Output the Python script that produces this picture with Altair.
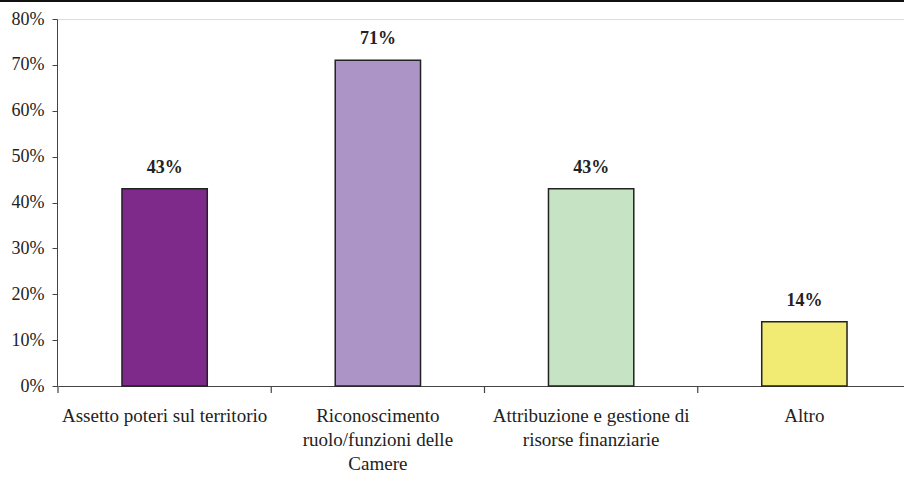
import altair as alt
import pandas as pd

# Survey results: share of respondents per topic
categories = [
    "Assetto poteri sul territorio",
    "Riconoscimento\nruolo/funzioni delle\nCamere",
    "Attribuzione e gestione di\nrisorse finanziarie",
    "Altro",
]
shares = [43, 71, 43, 14]
labels = ["43%", "71%", "43%", "14%"]
colors = ["#7D2A8B", "#AD94C7", "#C6E3C4", "#F2EB73"]

df = pd.DataFrame({"cat": categories, "share": shares, "label": labels})

FONT = "Liberation Serif"
AXIS_COLOR = "#444"

xscale = alt.Scale(range=[1, 854], paddingInner=0, paddingOuter=0)

x = alt.X(
    "cat:N",
    sort=categories,
    scale=xscale,
    axis=alt.Axis(
        title=None,
        labelAngle=0,
        labelExpr="split(datum.label, '\\n')",
        labelFont=FONT,
        labelFontSize=19,
        labelColor="#222",
        labelLineHeight=24,
        labelPadding=20,
        labelLimit=400,
        ticks=False,
        domainColor=AXIS_COLOR,
    ),
)

y = alt.Y(
    "share:Q",
    scale=alt.Scale(domain=[0, 80], nice=False),
    axis=alt.Axis(
        title=None,
        values=list(range(0, 81, 10)),
        labelExpr="datum.value + '%'",
        labelFont=FONT,
        labelFontSize=18,
        labelColor="#222",
        labelPadding=8,
        tickSize=5,
        tickColor=AXIS_COLOR,
        domainColor=AXIS_COLOR,
        grid=False,
    ),
)

bars = alt.Chart(df).mark_bar(
    stroke="#222", strokeWidth=1.5, width=alt.RelativeBandSize(0.4)
).encode(
    x=x,
    y=y,
    color=alt.Color("cat:N", sort=categories,
                    scale=alt.Scale(domain=categories, range=colors), legend=None),
)

text = alt.Chart(df).mark_text(
    font=FONT, fontSize=18, fontWeight="bold", color="#222", dy=-12, baseline="bottom"
).encode(
    x=alt.X("cat:N", sort=categories),
    y="share:Q",
    text="label:N",
)

# category separator ticks below the x axis, at each band's left edge
sep_ticks = alt.Chart(df).mark_rule(color=AXIS_COLOR, strokeWidth=1.2).encode(
    x=alt.X("cat:N", sort=categories, bandPosition=0),
    y=alt.value(367),
    y2=alt.value(374),
)

# thin frame rule across the top edge
top_rule = alt.Chart(df).mark_rule(color="#111", strokeWidth=2).encode(
    x=alt.value(-57), x2=alt.value(860), y=alt.value(-18)
)

chart = (
    alt.layer(bars, text, sep_ticks, top_rule)
    .properties(
        width=847,
        height=367,
        autosize=alt.AutoSizeParams(type="none"),
        padding={"left": 57, "top": 19, "right": 0, "bottom": 91},
    )
    .configure_view(stroke=None)
    .configure(background="white")
)

chart.save("out.html", embed_options={"renderer": "svg", "actions": False})
